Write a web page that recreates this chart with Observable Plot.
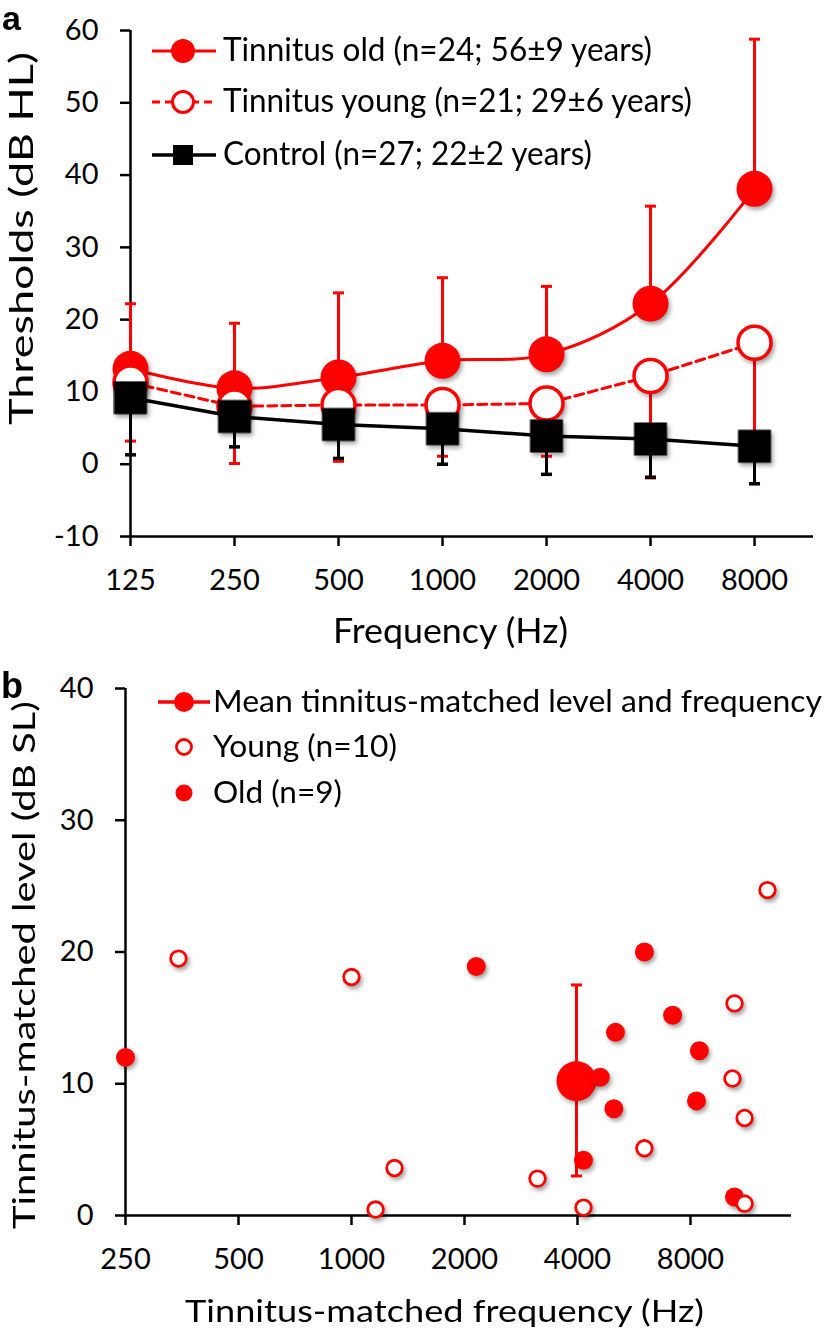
<!DOCTYPE html>
<html>
<head>
<meta charset="utf-8">
<script src="https://cdn.jsdelivr.net/npm/d3@7"></script>
<script src="https://cdn.jsdelivr.net/npm/@observablehq/plot@0.6"></script>
<style>
  html, body { margin: 0; padding: 0; background: #fff; }
  #wrap { position: relative; width: 826px; height: 1336px; overflow: hidden; background: #fff; }
  .panel { position: absolute; left: 0; }
  #overlay { position: absolute; left: 0; top: 0; pointer-events: none; }
  g[aria-label^="x-axis"] path, g[aria-label^="y-axis"] path,
  g[aria-label^="x-axis"] line, g[aria-label^="y-axis"] line { stroke-width: 2.5px; }
  g[aria-description="marker"] { filter: drop-shadow(2px 3px 2px rgba(0,0,0,0.35)); }
</style>
</head>
<body>
<div id="wrap">
  <div id="panelA" class="panel" style="top:0"></div>
  <div id="panelB" class="panel" style="top:660px"></div>
</div>
<script>
// ---------------- DATA: panel a ----------------
const freqA        = [125, 250, 500, 1000, 2000, 4000, 8000];
const oldMean      = [13.2, 10.5, 12.0, 14.3, 15.2, 22.2, 38.1];
const oldUpper     = [22.2, 19.5, 23.7, 25.8, 24.6, 35.7, 58.8];
const youngMean    = [11.3, 8.0, 8.2, 8.2, 8.4, 12.2, 16.8];
const youngLower   = [3.2, 0.1, 0.4, 1.1, 1.1, -1.9, -2.7];
const controlMean  = [9.2, 6.6, 5.5, 4.9, 3.9, 3.5, 2.5];
const controlLower = [1.3, 2.4, 0.8, 0.0, -1.4, -1.8, -2.7];
const xTicksA      = [125, 250, 500, 1000, 2000, 4000, 8000];
const yTicksA      = [-10, 0, 10, 20, 30, 40, 50, 60];
const legendLabelsA = [
  "Tinnitus old (n=24; 56\u00b19 years)",
  "Tinnitus young (n=21; 29\u00b16 years)",
  "Control (n=27; 22\u00b12 years)"
];
const xTitleA = "Frequency (Hz)";
const yTitleA = "Thresholds (dB HL)";

// ---------------- DATA: panel b ----------------
const youngFreq  = [346, 1000, 1159, 1302, 3130, 4150, 6030, 10350, 11150, 11150, 12830, 10480];
const youngLevel = [19.5, 18.1, 0.45, 3.6, 2.8, 0.6, 5.1, 10.4, 7.4, 0.9, 24.7, 16.1];
const oldFreq    = [250, 2150, 6030, 5050, 7170, 8450, 4600, 5000, 8300, 4150, 10480];
const oldLevel   = [12.0, 18.9, 20.0, 13.9, 15.2, 12.5, 10.5, 8.1, 8.7, 4.2, 1.4];
const meanFreq   = [3975];
const meanLevel  = [10.2];
const meanLow    = [3.0];
const meanHigh   = [17.5];
const xTicksB    = [250, 500, 1000, 2000, 4000, 8000];
const yTicksB    = [0, 10, 20, 30, 40];
const legendLabelsB = [
  "Mean tinnitus-matched level and frequency",
  "Young (n=10)",
  "Old (n=9)"
];
const xTitleB = "Tinnitus-matched frequency (Hz)";
const yTitleB = "Tinnitus-matched level (dB SL)";

// ---------------- helpers ----------------
const RED = "#ff0000";
const capSymbol = {
  draw(ctx, size) {
    const w = Math.sqrt(size / Math.PI);
    ctx.moveTo(-w, 0); ctx.lineTo(w, 0);
  }
};
const fmt = d => String(d);
const baseStyle = {fontSize: "29px", fontFamily: "Lato, sans-serif", color: "#000", background: "transparent", overflow: "visible"};

// ---------------- panel a ----------------
const rowsA = freqA.map((f, i) => ({
  f, old: oldMean[i], oldHi: oldUpper[i],
  young: youngMean[i], youngLo: youngLower[i],
  ctrl: controlMean[i], ctrlLo: controlLower[i]
}));

const chartA = Plot.plot({
  width: 826, height: 660,
  marginTop: 30, marginBottom: 124, marginLeft: 130, marginRight: 13,
  style: baseStyle,
  x: {type: "log", base: 2, domain: [125, 125 * Math.pow(2, 6.567)], ticks: xTicksA, tickFormat: fmt, tickSize: 10, tickPadding: 23, label: null},
  y: {domain: [-10, 60], ticks: yTicksA, tickFormat: fmt, tickSize: 10, tickPadding: 22, label: null},
  marks: [
    Plot.ruleX([125], {stroke: "#000", strokeWidth: 2.5}),
    Plot.ruleY([-10], {stroke: "#000", strokeWidth: 2.5}),
    // Tinnitus old
    Plot.line(rowsA, {x: "f", y: "old", stroke: RED, strokeWidth: 3, curve: "catmull-rom"}),
    Plot.ruleX(rowsA, {x: "f", y1: "old", y2: "oldHi", stroke: RED, strokeWidth: 3}),
    Plot.dot(rowsA, {x: "f", y: "oldHi", symbol: capSymbol, r: 5.5, fill: "none", stroke: RED, strokeWidth: 3}),
    Plot.dot(rowsA, {x: "f", y: "old", r: 18, fill: RED, ariaDescription: "marker"}),
    // Tinnitus young
    Plot.line(rowsA, {x: "f", y: "young", stroke: RED, strokeWidth: 3, strokeDasharray: "9,5"}),
    Plot.ruleX(rowsA, {x: "f", y1: "young", y2: "youngLo", stroke: RED, strokeWidth: 3}),
    Plot.dot(rowsA, {x: "f", y: "youngLo", symbol: capSymbol, r: 5.5, fill: "none", stroke: RED, strokeWidth: 3}),
    Plot.dot(rowsA, {x: "f", y: "young", r: 16.5, fill: "#fff", stroke: RED, strokeWidth: 3.5, ariaDescription: "marker"}),
    // Control
    Plot.line(rowsA, {x: "f", y: "ctrl", stroke: "#000", strokeWidth: 3.5}),
    Plot.ruleX(rowsA, {x: "f", y1: "ctrl", y2: "ctrlLo", stroke: "#000", strokeWidth: 3}),
    Plot.dot(rowsA, {x: "f", y: "ctrlLo", symbol: capSymbol, r: 5.5, fill: "none", stroke: "#000", strokeWidth: 3.5}),
    Plot.dot(rowsA, {x: "f", y: "ctrl", symbol: "square", r: 18.6, fill: "#000", ariaDescription: "marker"})
  ]
});
document.getElementById("panelA").appendChild(chartA);

// ---------------- panel b ----------------
const youngRows = youngFreq.map((f, i) => ({f, l: youngLevel[i]}));
const oldRows   = oldFreq.map((f, i) => ({f, l: oldLevel[i]}));
const meanRows  = meanFreq.map((f, i) => ({f, l: meanLevel[i], lo: meanLow[i], hi: meanHigh[i]}));

const chartB = Plot.plot({
  width: 826, height: 676,
  marginTop: 28, marginBottom: 121, marginLeft: 125, marginRight: 35,
  style: baseStyle,
  x: {type: "log", base: 2, domain: [250, 250 * Math.pow(2, 5.894)], ticks: xTicksB, tickFormat: fmt, tickSize: 10, tickPadding: 23, label: null},
  y: {domain: [0, 40], ticks: yTicksB, tickFormat: fmt, tickSize: 10, tickPadding: 22, label: null},
  marks: [
    Plot.ruleX([250], {stroke: "#000", strokeWidth: 2.5}),
    Plot.ruleY([0], {stroke: "#000", strokeWidth: 2.5}),
    Plot.ruleX(meanRows, {x: "f", y1: "lo", y2: "hi", stroke: RED, strokeWidth: 3}),
    Plot.dot(meanRows, {x: "f", y: "lo", symbol: capSymbol, r: 5.5, fill: "none", stroke: RED, strokeWidth: 3}),
    Plot.dot(meanRows, {x: "f", y: "hi", symbol: capSymbol, r: 5.5, fill: "none", stroke: RED, strokeWidth: 3}),
    Plot.dot(meanRows, {x: "f", y: "l", r: 20, fill: RED, ariaDescription: "marker"}),
    Plot.dot(oldRows, {x: "f", y: "l", r: 9.5, fill: RED, ariaDescription: "marker"}),
    Plot.dot(youngRows, {x: "f", y: "l", r: 7.8, fill: "#fff", stroke: RED, strokeWidth: 2.8, ariaDescription: "marker"})
  ]
});
document.getElementById("panelB").appendChild(chartB);

// ---------------- overlay: labels, titles, legends ----------------
const svg = d3.select("#wrap").append("svg")
  .attr("id", "overlay").attr("width", 826).attr("height", 1336)
  .style("font-family", "Lato, sans-serif");

function txt(s, x, y, size, len, opts = {}) {
  const t = svg.append("text").attr("x", x).attr("y", y)
    .attr("font-size", size).attr("fill", "#000").text(s);
  if (len) t.attr("textLength", len).attr("lengthAdjust", "spacingAndGlyphs");
  if (opts.anchor) t.attr("text-anchor", opts.anchor);
  if (opts.rotate) t.attr("transform", `rotate(-90 ${x} ${y})`);
  if (opts.weight) t.attr("font-weight", opts.weight);
  if (opts.family) t.attr("font-family", opts.family);
  return t;
}

// panel letters
txt("a", 2, 30, 34, null, {weight: "bold", family: "Liberation Sans, Arial, sans-serif"});
txt("b", 1, 698, 36, null, {weight: "bold", family: "Liberation Sans, Arial, sans-serif"});

// axis titles
txt(xTitleA, 450.5, 643, 34, 235, {anchor: "middle"});
txt(yTitleA, 33, 238.5, 32, 373, {anchor: "middle", rotate: true});
txt(xTitleB, 444.5, 1322, 31, 519, {anchor: "middle"});
txt(yTitleB, 35, 965, 31, 528, {anchor: "middle", rotate: true});

// legend a
const rowYA = [51, 102, 155];
const lenA = [429, 469, 369];
svg.append("line").attr("x1", 152).attr("x2", 216).attr("y1", rowYA[0]).attr("y2", rowYA[0]).attr("stroke", RED).attr("stroke-width", 3);
svg.append("circle").attr("cx", 183).attr("cy", rowYA[0]).attr("r", 12).attr("fill", RED);
svg.append("line").attr("x1", 152).attr("x2", 216).attr("y1", rowYA[1]).attr("y2", rowYA[1]).attr("stroke", RED).attr("stroke-width", 3).attr("stroke-dasharray", "8,5");
svg.append("circle").attr("cx", 183).attr("cy", rowYA[1]).attr("r", 10.5).attr("fill", "#fff").attr("stroke", RED).attr("stroke-width", 3);
svg.append("line").attr("x1", 152).attr("x2", 216).attr("y1", rowYA[2]).attr("y2", rowYA[2]).attr("stroke", "#000").attr("stroke-width", 3.5);
svg.append("rect").attr("x", 173).attr("y", rowYA[2] - 10).attr("width", 20).attr("height", 20).attr("fill", "#000");
legendLabelsA.forEach((s, i) => txt(s, 223, rowYA[i] + 10, 32, lenA[i]));

// legend b
const rowYB = [702, 747, 793];
const lenB = [609, 184, 129];
svg.append("line").attr("x1", 158).attr("x2", 210).attr("y1", rowYB[0]).attr("y2", rowYB[0]).attr("stroke", RED).attr("stroke-width", 3.5);
svg.append("circle").attr("cx", 184).attr("cy", rowYB[0]).attr("r", 10).attr("fill", RED);
svg.append("circle").attr("cx", 184).attr("cy", rowYB[1]).attr("r", 7.5).attr("fill", "#fff").attr("stroke", RED).attr("stroke-width", 2.8);
svg.append("circle").attr("cx", 184).attr("cy", rowYB[2]).attr("r", 8.5).attr("fill", RED);
legendLabelsB.forEach((s, i) => txt(s, 213, rowYB[i] + 10, 31, lenB[i]));
</script>
</body>
</html>
